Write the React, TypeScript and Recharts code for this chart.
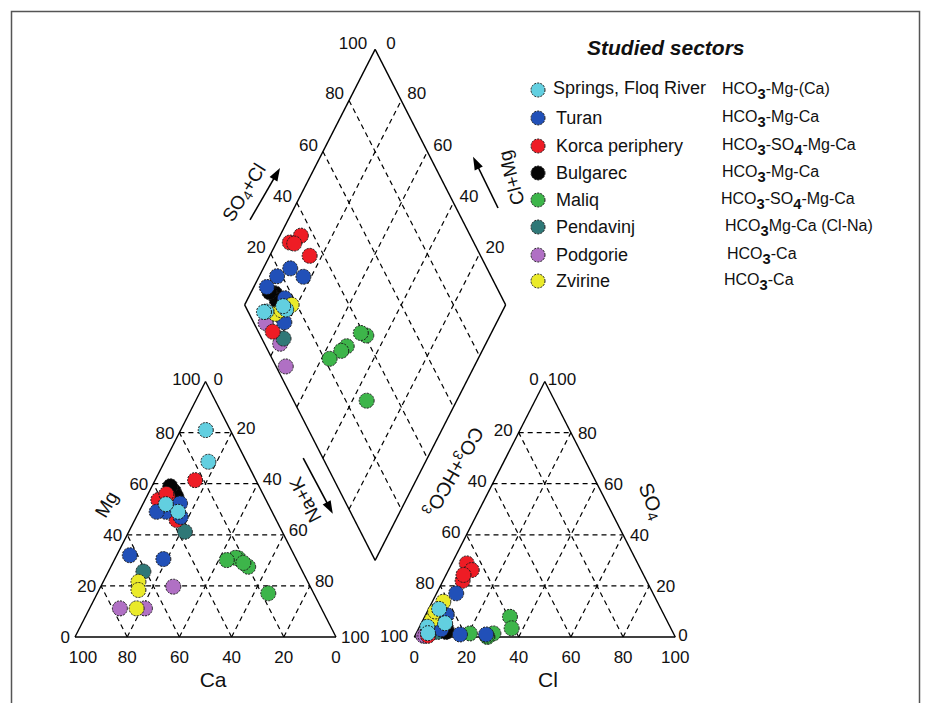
import React from 'react';
import { ScatterChart, Scatter, XAxis, YAxis, ReferenceLine } from 'recharts';

// ---------- data: samples as [Mg %, Na+K %, SO4 %, Cl %] (meq %) ----------
const springs = [[81, 9.6, 4, 3], [68.6, 16.8, 11, 4], [49, 15, 5.4, 9.1], [52, 8.8, 1.5, 4.5]];
const turan = [[49, 10.3, 17.1, 7.5], [47, 17, 1, 27], [49, 6.8, 1, 17], [32, 5, 8, 4], [30.5, 18.6, 3, 8.8], [52.3, 14.1, 8.6, 8.1]];
const korca = [[61.4, 15.3, 28.8, 5.7], [53.6, 5.1, 22, 7.5], [55, 8, 26.2, 8.9], [45.8, 16, 0.5, 5], [56, 7, 24.3, 6.7]];
const bulgarec = [[57, 9.4, 3, 10.9], [55, 11.3, 2, 11.2], [59, 7, 4, 8]];
const maliq = [[27.5, 52.6, 7.9, 32.7], [30.8, 47.2, 1.4, 29.6], [31, 46, 0, 28], [30.1, 43.1, 1.4, 20.6], [17.1, 65.5, 0.5, 27.5], [29, 50, 3.4, 35.6]];
const pendavinj = [[41.2, 21.5, 2, 6.3], [25.6, 13.4, 2, 8]];
const podgorie = [[19.7, 27.8, 0.5, 3.2], [11.2, 11.6, 0.5, 4], [11.2, 21.2, 1, 5]];
const zvirine = [[11.2, 18, 13.8, 4.2], [21.6, 13.5, 6.7, 3.3], [18.4, 15.1, 10, 3]];

const sectorNames = ['Springs, Floq River', 'Turan', 'Korca periphery', 'Bulgarec', 'Maliq', 'Pendavinj', 'Podgorie', 'Zvirine'];
const sectorTypes = ['HCO_3-Mg-(Ca)', 'HCO_3-Mg-Ca', 'HCO_3-SO_4-Mg-Ca', 'HCO_3-Mg-Ca', 'HCO_3-SO_4-Mg-Ca', 'HCO_3Mg-Ca (Cl-Na)', 'HCO_3-Ca', 'HCO_3-Ca'];
const sectorSamples = [springs, turan, korca, bulgarec, maliq, pendavinj, podgorie, zvirine];

const gridTicks = [20, 40, 60, 80];
const axisTicks = [0, 20, 40, 60, 80, 100];

// ---------- styles ----------
const COLORS = ['#62cfe0', '#2150b8', '#ee1c25', '#050505', '#3db54a', '#2f7877', '#b070c4', '#eaea2a'];
const DRAW_ORDER = [4, 6, 5, 3, 2, 1, 7, 0];
const FONT = '"Liberation Sans", Arial, Helvetica, sans-serif';
const W = 932;
const HT = 703;
const PX_X = 2.61;
const PX_Y = 2.95;
const ORIGIN_X = 75;
const ORIGIN_Y = 637;

// ---------- geometry ----------
const H = Math.sqrt(3) / 2;
const OFF = 130; // horizontal offset of anion triangle
const catPt = (mg: number, na: number) => ({ x: na + mg / 2, y: mg * H });
const anPt = (so4: number, cl: number) => ({ x: OFF + cl + so4 / 2, y: so4 * H });
const diaPt = (a: number, n: number) => ({ x: OFF / 2 + (a + n) / 2, y: OFF * H + (a - n) * H });

type P = { x: number; y: number };
const segs: { a: P; b: P; dash: boolean }[] = [];
const seg = (a: P, b: P, dash: boolean) => segs.push({ a, b, dash });

gridTicks.forEach((k) => {
  seg(catPt(k, 0), catPt(k, 100 - k), true);
  seg(catPt(0, k), catPt(100 - k, k), true);
  seg(catPt(0, 100 - k), catPt(100 - k, 0), true);
  seg(anPt(k, 0), anPt(k, 100 - k), true);
  seg(anPt(0, k), anPt(100 - k, k), true);
  seg(anPt(0, 100 - k), anPt(100 - k, 0), true);
  seg(diaPt(k, 0), diaPt(k, 100), true);
  seg(diaPt(0, k), diaPt(100, k), true);
});
seg(catPt(0, 0), catPt(0, 100), false);
seg(catPt(0, 100), catPt(100, 0), false);
seg(catPt(100, 0), catPt(0, 0), false);
seg(anPt(0, 0), anPt(0, 100), false);
seg(anPt(0, 100), anPt(100, 0), false);
seg(anPt(100, 0), anPt(0, 0), false);
seg(diaPt(0, 0), diaPt(100, 0), false);
seg(diaPt(100, 0), diaPt(100, 100), false);
seg(diaPt(100, 100), diaPt(0, 100), false);
seg(diaPt(0, 100), diaPt(0, 0), false);

// ---------- tick labels ----------
type L = P & { text: string; dx?: number; dy?: number; anchor?: string; size?: number; rot?: number; center?: boolean };
const labels: L[] = [];
axisTicks.forEach((v) => {
  // cation triangle
  labels.push({ ...catPt(0, 100 - v), text: String(v), dx: v === 100 ? 8 : 0, dy: 26 });
  if (v < 100) labels.push({ ...catPt(v, 0), text: String(v), anchor: 'end', dx: -5, dy: 6 });
  if (v > 0) labels.push({ ...catPt(100 - v, v), text: String(v), anchor: 'start', dx: 5, dy: v === 100 ? 6 : 1 });
  // anion triangle
  labels.push({ ...anPt(0, v), text: String(v), dy: 26 });
  if (v > 0) labels.push({ ...anPt(100 - v, 0), text: String(v), anchor: 'end', dx: -6, dy: v === 100 ? 5 : 3 });
  if (v < 100) labels.push({ ...anPt(v, 100 - v), text: String(v), anchor: 'start', dx: v === 0 ? 3 : 7, dy: v === 0 ? 4 : 6 });
});
labels.push({ ...catPt(100, 0), text: '100', anchor: 'end', dx: -5, dy: 3 });
labels.push({ ...catPt(100, 0), text: '0', anchor: 'start', dx: 8, dy: 3 });
labels.push({ ...anPt(100, 0), text: '0', anchor: 'end', dx: -6, dy: 3 });
labels.push({ ...anPt(100, 0), text: '100', anchor: 'start', dx: 3, dy: 3 });
gridTicks.forEach((v) => {
  labels.push({ ...diaPt(v, 0), text: String(v), anchor: 'end', dx: -5, dy: -1 });
  labels.push({ ...diaPt(100, 100 - v), text: String(v), anchor: 'start', dx: 6, dy: -1 });
});
labels.push({ ...diaPt(100, 0), text: '100', anchor: 'end', dx: -8, dy: 0 });
labels.push({ ...diaPt(100, 0), text: '0', anchor: 'start', dx: 11, dy: 0 });

// axis titles (data-unit anchors)
const titles: L[] = [
  { x: 11.9, y: 45.1, text: 'Mg', rot: -60, size: 19, center: true },
  { x: 88.1, y: 46.4, text: 'Na+K', rot: -117, size: 19, center: true },
  { x: 52.9, y: -14.2, text: 'Ca', size: 21, center: true },
  { x: 181.2, y: -14.2, text: 'Cl', size: 21, center: true },
  { x: 145.3, y: 55.9, text: 'CO_3+HCO_3', rot: 120, size: 19.5, center: true },
  { x: 220.9, y: 46.1, text: 'SO_4', rot: 68, size: 20, center: true },
  { x: 64.6, y: 150.8, text: 'SO_4+Cl', rot: -58, size: 19, center: true },
  { x: 167.0, y: 155.6, text: 'Cl+Mg', rot: -105, size: 19, center: true },
];
const arrows = [
  { x: 72.8, y: 150.2, angle: -60, len: 60 },
  { x: 157.3, y: 154.1, angle: -116, len: 57 },
  { x: 93.1, y: 51.2, angle: 62, len: 63 },
];

const parts = (t: string) => {
  const out: { s: string; sub: boolean }[] = [];
  let i = 0;
  let buf = '';
  while (i < t.length) {
    if (t[i] === '_' && i + 1 < t.length) {
      if (buf) out.push({ s: buf, sub: false });
      buf = '';
      out.push({ s: t[i + 1], sub: true });
      i += 2;
    } else {
      buf += t[i];
      i += 1;
    }
  }
  if (buf) out.push({ s: buf, sub: false });
  return out;
};

const renderText = (t: string, bold: boolean) => {
  const ps = parts(t);
  let shifted = false;
  return ps.map((p, i) => {
    let dy = 0;
    if (p.sub && !shifted) { dy = 5; shifted = true; }
    else if (!p.sub && shifted) { dy = -5; shifted = false; }
    return (
      <tspan key={i} dy={dy || undefined}
        fontSize={p.sub ? (bold ? '0.92em' : '0.72em') : undefined}
        fontWeight={p.sub && bold ? 'bold' : undefined}>
        {p.s}
      </tspan>
    );
  });
};

const LabelShape = (p: any) => {
  const d: L = p.payload;
  const x = p.cx + (d.dx || 0);
  const y = p.cy + (d.dy || 0);
  return (
    <text x={x} y={y} textAnchor={(d.anchor as any) || 'middle'} fontSize={d.size || 17} fontFamily={FONT} fill="#111"
      dominantBaseline={d.center ? 'central' : undefined}
      transform={d.rot ? `rotate(${d.rot} ${x} ${y})` : undefined}>
      {renderText(d.text, false)}
    </text>
  );
};

const ArrowShape = (p: any) => {
  const d = p.payload;
  const L2 = d.len / 2;
  return (
    <g transform={`translate(${p.cx},${p.cy}) rotate(${d.angle})`}>
      <line x1={-L2} y1={0} x2={L2 - 8} y2={0} stroke="#000" strokeWidth={1.6} />
      <polygon points={`${L2},0 ${L2 - 13},-4.5 ${L2 - 13},4.5`} fill="#000" />
    </g>
  );
};

const makeDot = (color: string) => (p: any) => (
  <circle cx={p.cx} cy={p.cy} r={7.5} fill={color} stroke="#1a1a1a" strokeWidth={1} strokeDasharray="2 1.2" />
);

const seriesData = sectorSamples.map((s) =>
  s.flatMap((v) => [catPt(v[0], v[1]), anPt(v[2], v[3]), diaPt(v[2] + v[3], v[1])])
);

const xDomain: [number, number] = [-ORIGIN_X / PX_X, (W - ORIGIN_X) / PX_X];
const yDomain: [number, number] = [-(HT - ORIGIN_Y) / PX_Y, ORIGIN_Y / PX_Y];

const legendY = [90, 118, 146, 173, 200, 227, 255, 281];
const typeX = [722, 722, 722, 722, 721, 725, 727, 724];

export default function App() {
  return (
    <div style={{ position: 'absolute', left: 0, top: 0, width: W, height: HT, background: '#fff', overflow: 'hidden' }}>
      <ScatterChart width={W} height={HT} margin={{ top: 0, right: 0, bottom: 0, left: 0 }}>
        <XAxis type="number" dataKey="x" domain={xDomain} allowDataOverflow hide />
        <YAxis type="number" dataKey="y" domain={yDomain} allowDataOverflow hide />
        {segs.map((s, i) => (
          <ReferenceLine key={i} segment={[s.a, s.b]} stroke="#000" strokeWidth={s.dash ? 1.2 : 1.4}
            strokeDasharray={s.dash ? '5 4' : undefined} ifOverflow="visible" />
        ))}
        <Scatter name="labels" data={labels} shape={LabelShape} isAnimationActive={false} />
        <Scatter name="titles" data={titles} shape={LabelShape} isAnimationActive={false} />
        <Scatter name="arrows" data={arrows} shape={ArrowShape} isAnimationActive={false} />
        {DRAW_ORDER.map((g) => (
          <Scatter key={g} name={sectorNames[g]} data={seriesData[g]} shape={makeDot(COLORS[g])} isAnimationActive={false} />
        ))}
      </ScatterChart>
      <svg width={W} height={HT} style={{ position: 'absolute', left: 0, top: 0, pointerEvents: 'none' }}>
        <rect x={11.5} y={11.5} width={908} height={720} fill="none" stroke="#555" strokeWidth={1.5} />
        <text x={587} y={55} fontFamily={FONT} fontSize={21} fontWeight="bold" fontStyle="italic" fill="#111">Studied sectors</text>
        {sectorNames.map((n, i) => (
          <g key={n}>
            <circle cx={538} cy={legendY[i]} r={7} fill={COLORS[i]} stroke="#1a1a1a" strokeWidth={1} strokeDasharray="2 1.2" />
            <text x={i === 0 ? 553 : 556} y={legendY[i] + (i === 0 ? 4 : 6)} fontFamily={FONT} fontSize={18} fill="#111">{n}</text>
            <text x={typeX[i]} y={legendY[i] + 4} fontFamily={FONT} fontSize={16} fill="#111">
              {renderText(sectorTypes[i], true)}
            </text>
          </g>
        ))}
      </svg>
    </div>
  );
}
